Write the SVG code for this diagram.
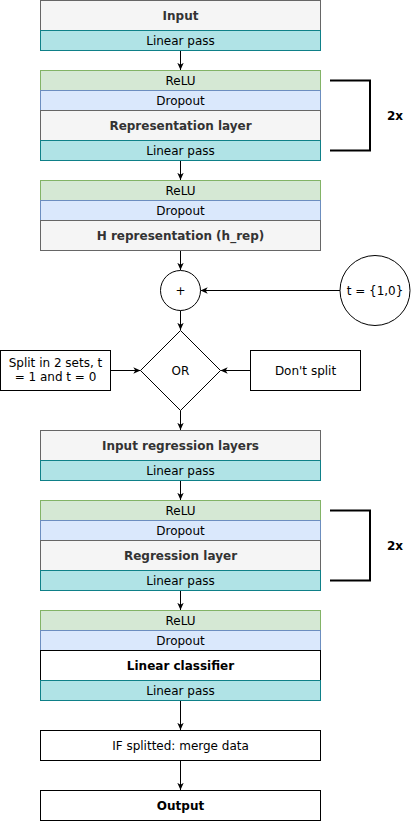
<svg xmlns="http://www.w3.org/2000/svg" width="411" height="821" viewBox="0 0 411 821">
<defs>
<marker id="arr" viewBox="0 0 10 10" refX="9" refY="5" markerWidth="8" markerHeight="8" markerUnits="userSpaceOnUse" orient="auto">
<path d="M0,1 L9,5 L0,9 L2.5,5 z" fill="#000"/>
</marker>
<style>
text{font-family:"DejaVu Sans",Verdana,sans-serif;font-size:12px;text-anchor:middle;fill:#000}
.b{font-weight:bold}
.g{fill:#f5f5f5;stroke:#666666}
.gt{fill:#333333}
.t{fill:#b0e3e6;stroke:#0e8088}
.r{fill:#d5e8d4;stroke:#82b366}
.d{fill:#dae8fc;stroke:#6c8ebf}
.w{fill:#ffffff;stroke:#000000}
.c{fill:none;stroke:#000;stroke-width:1;marker-end:url(#arr)}
.br{fill:none;stroke:#000;stroke-width:2}
</style>
</defs>
<rect width="411" height="821" fill="#ffffff"/>

<g id="connectors">
<line class="c" x1="180.5" y1="50.5" x2="180.5" y2="70"/>
<line class="c" x1="180.5" y1="160.5" x2="180.5" y2="180"/>
<line class="c" x1="180.5" y1="250.5" x2="180.5" y2="270"/>
<line class="c" x1="340" y1="290.5" x2="200.5" y2="290.5"/>
<line class="c" x1="180.5" y1="310.5" x2="180.5" y2="330"/>
<line class="c" x1="110.5" y1="370.5" x2="140.5" y2="370.5"/>
<line class="c" x1="250.5" y1="370.5" x2="220.5" y2="370.5"/>
<line class="c" x1="180.5" y1="410.5" x2="180.5" y2="430"/>
<line class="c" x1="180.5" y1="480.5" x2="180.5" y2="500"/>
<line class="c" x1="180.5" y1="590.5" x2="180.5" y2="610"/>
<line class="c" x1="180.5" y1="700.5" x2="180.5" y2="730"/>
<line class="c" x1="180.5" y1="760.5" x2="180.5" y2="790"/>
</g>

<g id="input">
<rect class="g" x="40.5" y="0.5" width="280" height="30"/>
<text class="b gt" x="180.5" y="20">Input</text>
<rect class="t" x="40.5" y="30.5" width="280" height="20"/>
<text x="180.5" y="45">Linear pass</text>
</g>

<g id="rep-block">
<rect class="r" x="40.5" y="70.5" width="280" height="20"/>
<text x="180.5" y="85">ReLU</text>
<rect class="d" x="40.5" y="90.5" width="280" height="20"/>
<text x="180.5" y="105">Dropout</text>
<rect class="g" x="40.5" y="110.5" width="280" height="30"/>
<text class="b gt" x="180.5" y="130">Representation layer</text>
<rect class="t" x="40.5" y="140.5" width="280" height="20"/>
<text x="180.5" y="155">Linear pass</text>
</g>

<g id="bracket1">
<path class="br" d="M330 80.5 H370 V150.5 H330"/>
<text class="b" x="395" y="120">2x</text>
</g>

<g id="hrep-block">
<rect class="r" x="40.5" y="180.5" width="280" height="20"/>
<text x="180.5" y="195">ReLU</text>
<rect class="d" x="40.5" y="200.5" width="280" height="20"/>
<text x="180.5" y="215">Dropout</text>
<rect class="g" x="40.5" y="220.5" width="280" height="30"/>
<text class="b gt" x="180.5" y="240">H representation (h_rep)</text>
</g>

<g id="plus">
<circle cx="180.5" cy="290.5" r="20" fill="#fff" stroke="#000"/>
<text x="180.5" y="295">+</text>
</g>

<g id="tnode">
<circle cx="375" cy="290.5" r="35" fill="#fff" stroke="#000"/>
<text x="375" y="295">t = {1,0}</text>
</g>

<g id="or">
<path d="M180.5 330.5 L220.5 370.5 L180.5 410.5 L140.5 370.5 Z" fill="#fff" stroke="#000"/>
<text x="180.5" y="375">OR</text>
</g>

<g id="split">
<rect class="w" x="0.5" y="350.5" width="110" height="40"/>
<text x="55.5" y="367">Split in 2 sets, t</text>
<text x="55.5" y="381">= 1 and t = 0</text>
</g>

<g id="nosplit">
<rect class="w" x="250.5" y="350.5" width="110" height="40"/>
<text x="305.5" y="375">Don't split</text>
</g>

<g id="input-reg">
<rect class="g" x="40.5" y="430.5" width="280" height="30"/>
<text class="b gt" x="180.5" y="450">Input regression layers</text>
<rect class="t" x="40.5" y="460.5" width="280" height="20"/>
<text x="180.5" y="475">Linear pass</text>
</g>

<g id="reg-block">
<rect class="r" x="40.5" y="500.5" width="280" height="20"/>
<text x="180.5" y="515">ReLU</text>
<rect class="d" x="40.5" y="520.5" width="280" height="20"/>
<text x="180.5" y="535">Dropout</text>
<rect class="g" x="40.5" y="540.5" width="280" height="30"/>
<text class="b gt" x="180.5" y="560">Regression layer</text>
<rect class="t" x="40.5" y="570.5" width="280" height="20"/>
<text x="180.5" y="585">Linear pass</text>
</g>

<g id="bracket2">
<path class="br" d="M330 510.5 H370 V580.5 H330"/>
<text class="b" x="395" y="550">2x</text>
</g>

<g id="classifier-block">
<rect class="r" x="40.5" y="610.5" width="280" height="20"/>
<text x="180.5" y="625">ReLU</text>
<rect class="d" x="40.5" y="630.5" width="280" height="20"/>
<text x="180.5" y="645">Dropout</text>
<rect class="w" x="40.5" y="650.5" width="280" height="30"/>
<text class="b" x="180.5" y="670">Linear classifier</text>
<rect class="t" x="40.5" y="680.5" width="280" height="20"/>
<text x="180.5" y="695">Linear pass</text>
</g>

<g id="merge">
<rect class="w" x="40.5" y="730.5" width="280" height="30"/>
<text x="180.5" y="750">IF splitted: merge data</text>
</g>

<g id="output">
<rect class="w" x="40.5" y="790.5" width="280" height="30"/>
<text class="b" x="180.5" y="810">Output</text>
</g>
</svg>
